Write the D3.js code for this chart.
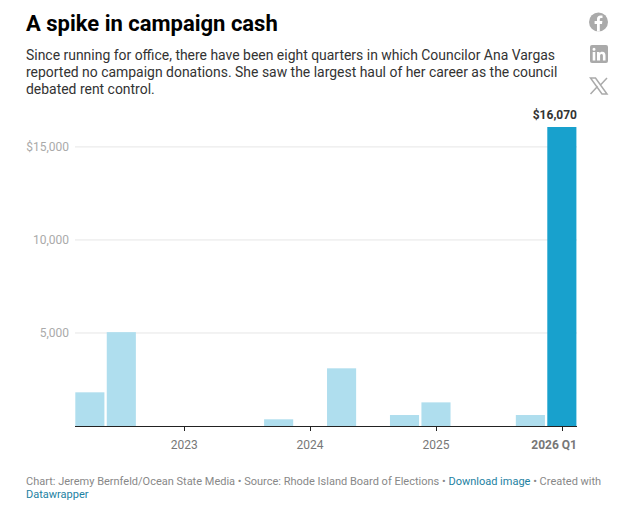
<!DOCTYPE html>
<html>
<head>
<meta charset="utf-8">
<script src="https://cdn.jsdelivr.net/npm/d3@7"></script>
<style>
  html, body { margin: 0; padding: 0; background: #fff; }
  text { font-family: Roboto, sans-serif; }
</style>
</head>
<body>
<div id="chart"></div>
<script>
// Quarterly donations
const quarters = ['2022 Q2', '2022 Q3', '2022 Q4', '2023 Q1', '2023 Q2', '2023 Q3', '2023 Q4', '2024 Q1',
  '2024 Q2', '2024 Q3', '2024 Q4', '2025 Q1', '2025 Q2', '2025 Q3', '2025 Q4', '2026 Q1'];
const donations = [1810, 5045, 0, 0, 0, 0, 360, 0, 3100, 0, 590, 1270, 0, 0, 590, 16070];
const yTicks = [5000, 10000, 15000];
const xTickQuarters = ['2023 Q1', '2024 Q1', '2025 Q1', '2026 Q1'];
const xTickLabels = ['2023', '2024', '2025', '2026 Q1'];

const titleText = 'A spike in campaign cash';
const descLines = [
  'Since running for office, there have been eight quarters in which Councilor Ana Vargas',
  'reported no campaign donations. She saw the largest haul of her career as the council',
  'debated rent control.'
];

const width = 624;
const height = 511;
const plot = { left: 75, right: 577, top: 127, bottom: 426 };

const svg = d3.select('#chart')
  .append('svg')
  .attr('width', width)
  .attr('height', height)
  .style('display', 'block');

// Header
svg.append('text')
  .attr('x', 26)
  .attr('y', 31)
  .attr('font-size', 22)
  .attr('font-weight', 700)
  .attr('fill', '#000')
  .text(titleText);

svg.selectAll('.desc')
  .data(descLines)
  .enter()
  .append('text')
  .attr('class', 'desc')
  .attr('x', 26)
  .attr('y', (d, i) => 60 + i * 17)
  .attr('font-size', 13.95)
  .attr('fill', '#333')
  .text(d => d);

// Scales
const x = d3.scaleBand()
  .domain(quarters)
  .range([plot.left + 0.3, plot.right - 0.6])
  .paddingInner(0.075)
  .paddingOuter(0);

const y = d3.scaleLinear()
  .domain([0, 16070])
  .range([plot.bottom, plot.top]);

// Gridlines and y labels
svg.selectAll('.grid')
  .data(yTicks)
  .enter()
  .append('line')
  .attr('class', 'grid')
  .attr('x1', plot.left)
  .attr('x2', plot.right)
  .attr('y1', d => y(d))
  .attr('y2', d => y(d))
  .attr('stroke', '#e6e6e6');

svg.selectAll('.ylabel')
  .data(yTicks)
  .enter()
  .append('text')
  .attr('class', 'ylabel')
  .attr('x', 69)
  .attr('y', d => y(d) + 4.5)
  .attr('text-anchor', 'end')
  .attr('font-size', 12)
  .attr('fill', '#aaa')
  .text(d => (d === 15000 ? '$' : '') + d3.format(',')(d));

// Bars
const last = quarters[quarters.length - 1];
svg.selectAll('.bar')
  .data(quarters)
  .enter()
  .append('rect')
  .attr('class', 'bar')
  .attr('x', d => x(d))
  .attr('width', x.bandwidth())
  .attr('y', (d, i) => y(donations[i]))
  .attr('height', (d, i) => y(0) - y(donations[i]))
  .attr('fill', d => d === last ? '#18a1cd' : '#afdeee');

// Baseline and x ticks
svg.append('line')
  .attr('x1', plot.left)
  .attr('x2', plot.right)
  .attr('y1', plot.bottom + 0.5)
  .attr('y2', plot.bottom + 0.5)
  .attr('stroke', '#222');

const bandMid = d => x(d) + x.bandwidth() / 2;

svg.selectAll('.tick')
  .data(xTickQuarters)
  .enter()
  .append('line')
  .attr('class', 'tick')
  .attr('x1', d => Math.round(bandMid(d)) + 0.5)
  .attr('x2', d => Math.round(bandMid(d)) + 0.5)
  .attr('y1', plot.bottom)
  .attr('y2', plot.bottom + 5)
  .attr('stroke', '#222');

svg.selectAll('.xlabel')
  .data(xTickQuarters)
  .enter()
  .append('text')
  .attr('class', 'xlabel')
  .attr('x', d => d === last ? plot.right : bandMid(d))
  .attr('y', 449)
  .attr('text-anchor', d => d === last ? 'end' : 'middle')
  .attr('font-size', 12)
  .attr('font-weight', d => d === last ? 700 : 400)
  .attr('fill', '#777')
  .text((d, i) => xTickLabels[i]);

// Value label
svg.append('text')
  .attr('x', plot.right)
  .attr('y', 119)
  .attr('text-anchor', 'end')
  .attr('font-size', 12)
  .attr('font-weight', 700)
  .attr('fill', '#333')
  .text('$' + d3.format(',')(donations[donations.length - 1]));

// Footer
const foot1 = svg.append('text')
  .attr('x', 26)
  .attr('y', 485)
  .attr('font-size', 11)
  .attr('fill', '#888');
foot1.append('tspan').text('Chart: Jeremy Bernfeld/Ocean State Media • Source: Rhode Island Board of Elections • ');
foot1.append('tspan').attr('fill', '#1d81a2').text('Download image');
foot1.append('tspan').text(' • Created with');

svg.append('text')
  .attr('x', 26)
  .attr('y', 498)
  .attr('font-size', 11)
  .attr('fill', '#1d81a2')
  .text('Datawrapper');

// Share icons
const icons = svg.append('g');

icons.append('circle')
  .attr('cx', 598.5)
  .attr('cy', 22)
  .attr('r', 9.5)
  .attr('fill', '#aaa');
icons.append('path')
  .attr('d', 'M597 31.5v-7.6h-2.4v-2.8h2.4v-2c0-2.4 1.4-3.7 3.6-3.7 1 0 1.9.1 1.9.1v2.4h-1.2c-1.2 0-1.5.7-1.5 1.4v1.8h2.6l-.4 2.8h-2.2v7.6z')
  .attr('fill', '#fff');

icons.append('rect')
  .attr('x', 590)
  .attr('y', 45)
  .attr('width', 18)
  .attr('height', 18)
  .attr('rx', 2)
  .attr('fill', '#aaa');
icons.append('path')
  .attr('d', 'M592.7 52h2.6v8.4h-2.6z M594 47.8a1.5 1.5 0 1 1 0 3 1.5 1.5 0 0 1 0-3z M597 52h2.5v1.2c.5-.8 1.4-1.4 2.8-1.4 2.6 0 3.2 1.7 3.2 4v4.6h-2.6v-4.1c0-1 0-2.3-1.4-2.3s-1.4 1.1-1.4 2.2v4.2H597z')
  .attr('fill', '#fff');

icons.append('path')
  .attr('d', 'M590.5 78h5l11.5 16h-5z M607 78l-7 7.4 M590.5 94l7.2-7.8')
  .attr('fill', 'none')
  .attr('stroke', '#aaa')
  .attr('stroke-width', 1.5);
</script>
</body>
</html>
